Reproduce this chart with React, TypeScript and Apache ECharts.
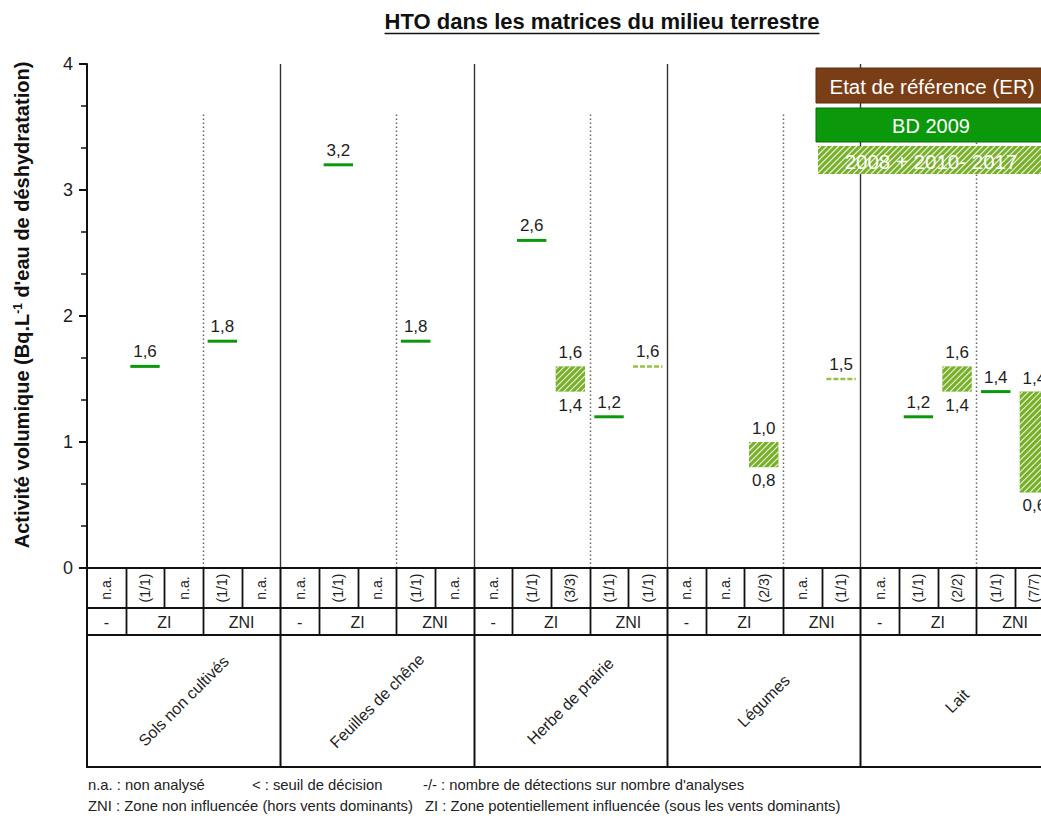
import React, { useEffect, useRef } from "react";
import * as echarts from "echarts";

const FONT = "'Liberation Sans', Arial, Helvetica, sans-serif";

// ---- texts ----
const chartTitle = "HTO dans les matrices du milieu terrestre";
const groupNames = ["Sols non cultivés", "Feuilles de chêne", "Herbe de prairie", "Légumes", "Lait"];
const zoneLabels = ["-", "ZI", "ZNI"];
const zoneSpans = [1, 2, 2];
const detectionCounts = [
  ["n.a.", "(1/1)", "n.a.", "(1/1)", "n.a."],
  ["n.a.", "(1/1)", "n.a.", "(1/1)", "n.a."],
  ["n.a.", "(1/1)", "(3/3)", "(1/1)", "(1/1)"],
  ["n.a.", "n.a.", "(2/3)", "n.a.", "(1/1)"],
  ["n.a.", "(1/1)", "(2/2)", "(1/1)", "(7/7)"],
];
const legendLabels = ["Etat de référence (ER)", "BD 2009", "2008 + 2010- 2017"];
const footnoteLine1 = ["n.a. : non analysé", "< : seuil de décision", "-/- : nombre de détections sur nombre d'analyses"];
const footnoteLine2 = ["ZNI : Zone non influencée (hors vents dominants)", "ZI : Zone potentiellement influencée (sous les vents dominants)"];

// ---- values ----
// BD 2009 (single measurements) : ZI column and ZNI column
const bd2009ZI = [1.6, 3.2, 2.6, null, 1.2];
const bd2009ZNI = [1.8, 1.8, 1.2, null, 1.4];
// 2008 + 2010-2017 (min / max) : ZI column and ZNI column
const suiviZIMin = [null, null, 1.4, 0.8, 1.4];
const suiviZIMax = [null, null, 1.6, 1.0, 1.6];
const suiviZNIMin = [null, null, 1.6, 1.5, 0.6];
const suiviZNIMax = [null, null, 1.6, 1.5, 1.4];

const COLS = 5;
const COL_BD_ZI = 1;
const COL_SUIVI_ZI = 2;
const COL_BD_ZNI = 3;
const COL_SUIVI_ZNI = 4;

// layout
const W = 1041;
const H = 816;
const GRID_LEFT = 87;
const GRID_TOP = 64;
const GRID_H = 504;
const COL_PX = 38.67; // width of one table column; the figure is cropped on the right

const BROWN = "#7a3e16";
const GREEN = "#0b980b";
const HATCH_GREEN = "#78b02a";
const LIGHT_GREEN = "#93c247";
const TXT = "#1e1e1e";

const fmt = (v: number) => v.toFixed(1).replace(".", ",");

function hatchLines(x0: number, y0: number, w: number, h: number, step: number) {
  const x1 = x0 + w;
  const y1 = y0 + h;
  const out: any[] = [];
  for (let c = x0 + y0 + step / 2; c < x1 + y1; c += step) {
    const xa = Math.max(x0, c - y1);
    const xb = Math.min(x1, c - y0);
    if (xb - xa > 0.5) {
      out.push({
        type: "line",
        silent: true,
        shape: { x1: xa, y1: c - xa, x2: xb, y2: c - xb },
        style: { stroke: "rgba(255,255,255,0.85)", lineWidth: 1.1 },
      });
    }
  }
  return out;
}

function txt(text: string, x: number, y: number, size: number, opts: any = {}) {
  return {
    type: "text",
    x,
    y,
    rotation: opts.rotation || 0,
    silent: true,
    style: {
      text,
      fill: opts.color || TXT,
      fontSize: size,
      fontFamily: FONT,
      fontWeight: opts.weight || "normal",
      align: opts.align || "center",
      textAlign: opts.align || "center",
      verticalAlign: opts.va || "middle",
      textVerticalAlign: opts.va || "middle",
      rich: opts.rich,
    },
  };
}

export default function App() {
  const ref = useRef<HTMLDivElement>(null);

  useEffect(() => {
    if (!ref.current) return;
    const chart = echarts.init(ref.current, null, { renderer: "svg" });

    const bdData: number[][] = [];
    const suiviData: number[][] = [];
    groupNames.forEach((_, g) => {
      if (bd2009ZI[g] != null) bdData.push([g * COLS + COL_BD_ZI + 0.5, bd2009ZI[g] as number]);
      if (bd2009ZNI[g] != null) bdData.push([g * COLS + COL_BD_ZNI + 0.5, bd2009ZNI[g] as number]);
      if (suiviZIMin[g] != null)
        suiviData.push([g * COLS + COL_SUIVI_ZI + 0.5, suiviZIMin[g] as number, suiviZIMax[g] as number]);
      if (suiviZNIMin[g] != null)
        suiviData.push([g * COLS + COL_SUIVI_ZNI + 0.5, suiviZNIMin[g] as number, suiviZNIMax[g] as number]);
    });

    const labelStyle = (text: string, x: number, y: number, va: string) => ({
      type: "text",
      x,
      y,
      style: {
        text,
        fill: TXT,
        fontSize: 17,
        fontFamily: FONT,
        align: "center",
        textAlign: "center",
        verticalAlign: va,
        textVerticalAlign: va,
      },
    });

    const nCols = groupNames.length * COLS;
    const xMax = (W - GRID_LEFT) / COL_PX; // visible part of the 25 columns

    chart.setOption({
      animation: false,
      backgroundColor: "#ffffff",
      grid: { left: GRID_LEFT, top: GRID_TOP, right: 0, height: GRID_H, containLabel: false },
      xAxis: { type: "value", min: 0, max: xMax, show: false },
      yAxis: {
        type: "value",
        min: 0,
        max: 4,
        interval: 1,
        axisLine: { show: true, lineStyle: { color: "#111", width: 2 } },
        axisTick: { show: true, inside: false, length: 8, lineStyle: { color: "#111", width: 2 } },
        minorTick: { show: true, splitNumber: 3, length: 6, lineStyle: { color: "#111", width: 1.5 } },
        splitLine: { show: false },
        minorSplitLine: { show: false },
        axisLabel: { fontSize: 18, color: TXT, fontFamily: FONT, margin: 14 },
      },
      series: [
        {
          name: "BD 2009",
          type: "custom",
          data: bdData,
          z: 5,
          clip: false,
          renderItem: (params: any, api: any) => {
            const x = api.value(0);
            const v = api.value(1);
            const p = api.coord([x, v]);
            const hw = api.size([1, 0])[0] * 0.38;
            return {
              type: "group",
              children: [
                {
                  type: "line",
                  shape: { x1: p[0] - hw, y1: p[1], x2: p[0] + hw, y2: p[1] },
                  style: { stroke: GREEN, lineWidth: 3 },
                },
                labelStyle(fmt(v), p[0], p[1] - 6, "bottom"),
              ],
            };
          },
        },
        {
          name: "2008 + 2010- 2017",
          type: "custom",
          data: suiviData,
          z: 5,
          clip: false,
          renderItem: (params: any, api: any) => {
            const x = api.value(0);
            const lo = api.value(1);
            const hi = api.value(2);
            const pLo = api.coord([x, lo]);
            const pHi = api.coord([x, hi]);
            const hw = api.size([1, 0])[0] * 0.38;
            if (lo === hi) {
              return {
                type: "group",
                children: [
                  {
                    type: "line",
                    shape: { x1: pHi[0] - hw, y1: pHi[1], x2: pHi[0] + hw, y2: pHi[1] },
                    style: { stroke: LIGHT_GREEN, lineWidth: 2.5, lineDash: [5, 2] },
                  },
                  labelStyle(fmt(hi), pHi[0], pHi[1] - 6, "bottom"),
                ],
              };
            }
            const x0 = pHi[0] - hw;
            const y0 = pHi[1];
            const w = hw * 2;
            const h = pLo[1] - pHi[1];
            return {
              type: "group",
              children: [
                { type: "rect", shape: { x: x0, y: y0, width: w, height: h }, style: { fill: HATCH_GREEN } },
                ...hatchLines(x0, y0, w, h, 6),
                labelStyle(fmt(hi), pHi[0], y0 - 5, "bottom"),
                labelStyle(fmt(lo), pHi[0], y0 + h + 5, "top"),
              ],
            };
          },
        },
      ],
    });

    const xAt = (v: number) => chart.convertToPixel({ xAxisIndex: 0 }, v) as number;
    const yAt = (v: number) => chart.convertToPixel({ yAxisIndex: 0 }, v) as number;

    const left = xAt(0);
    const right = W + 20;
    const R0 = yAt(0);
    const R1 = R0 + 40;
    const R2 = R1 + 27;
    const R3 = R2 + 132;
    const top = yAt(4);

    const g: any[] = [];
    const line = (x1: number, y1: number, x2: number, y2: number, lw: number, color = "#111", dash?: number[]) => ({
      type: "line",
      silent: true,
      shape: { x1, y1, x2, y2 },
      style: { stroke: color, lineWidth: lw, lineDash: dash },
    });

    // dotted ZI / ZNI separators
    groupNames.forEach((_, gi) => {
      const x = Math.round(xAt(gi * COLS + 3)) + 0.5;
      g.push(line(x, yAt(3.6), x, R0, 1.5, "#666", [1.5, 2.5]));
    });
    // solid group separators
    for (let gi = 1; gi <= groupNames.length; gi++) {
      const x = Math.round(xAt(gi * COLS)) + 0.5;
      g.push(line(x, top, x, R0, 1.4, "#333"));
      g.push(line(x, R0, x, R3, 2, "#111"));
    }
    // table frame
    g.push(line(left, R0, right, R0, 2));
    g.push(line(left, R1, right, R1, 2));
    g.push(line(left, R2, right, R2, 2));
    g.push(line(left, R3, right, R3, 2));
    g.push(line(left, R0, left, R3 + 1, 2));
    for (let c = 1; c < nCols; c++) {
      if (c % COLS === 0) continue;
      const x = Math.round(xAt(c)) + 0.5;
      g.push(line(x, R0, x, R1, 1.8));
    }
    // row 1 texts
    detectionCounts.forEach((row, gi) => {
      row.forEach((t, k) => {
        g.push(txt(t, xAt(gi * COLS + k + 0.5), (R0 + R1) / 2, 14, { rotation: Math.PI / 2 }));
      });
    });
    // row 2 + row 3
    groupNames.forEach((_, gi) => {
      let c = gi * COLS;
      zoneLabels.forEach((z, zi) => {
        const span = zoneSpans[zi];
        g.push(txt(z, xAt(c + span / 2), (R1 + R2) / 2 + 1, 16));
        c += span;
        if (c % COLS !== 0) {
          const x = Math.round(xAt(c)) + 0.5;
          g.push(line(x, R1, x, R2, 1.8));
        }
      });
      g.push(txt(groupNames[gi], xAt(gi * COLS + COLS / 2), (R2 + R3) / 2, 16, { rotation: Math.PI / 4 }));
    });

    // legend
    const lx = 816;
    const lw = 232;
    g.push({
      type: "group",
      children: [
        { type: "rect", shape: { x: lx, y: 68, width: lw, height: 35 }, style: { fill: BROWN, stroke: "#5a2c10", lineWidth: 1 } },
        txt(legendLabels[0], 932, 86, 20.5, { color: "#fff" }),
        { type: "rect", shape: { x: lx, y: 108, width: lw, height: 34 }, style: { fill: GREEN, stroke: "#0a6a0a", lineWidth: 1 } },
        txt(legendLabels[1], 931, 126, 20, { color: "#fff" }),
        { type: "rect", shape: { x: lx + 2, y: 146, width: lw, height: 28 }, style: { fill: HATCH_GREEN } },
        ...hatchLines(lx + 2, 146, lw, 28, 6),
        txt(legendLabels[2], 931, 161, 20.5, { color: "#fff" }),
      ],
    });

    // title
    const titleSize = 22;
    let tw = 433;
    try {
      const ctx = document.createElement("canvas").getContext("2d");
      if (ctx) {
        ctx.font = `bold ${titleSize}px ${FONT}`;
        tw = ctx.measureText(chartTitle).width;
      }
    } catch (e) {}
    g.push(txt(chartTitle, 602, 21, titleSize, { weight: "bold", color: "#111" }));
    g.push(line(602 - tw / 2, 33.5, 602 + tw / 2, 33.5, 1.6, "#111"));

    // y axis name
    g.push(
      txt("Activité volumique (Bq.L{sup|-1} d'eau de déshydratation)", 22, 305, 20, {
        rotation: Math.PI / 2,
        weight: "bold",
        color: "#111",
        rich: {
          sup: { fontSize: 12, fontWeight: "bold", fontFamily: FONT, fill: "#111", color: "#111", verticalAlign: "top", padding: [0, 0, 8, 0] },
        },
      })
    );

    // footnotes
    const fx1 = [88, 252, 423];
    footnoteLine1.forEach((t, i) => g.push(txt(t, fx1[i], 785, 14.8, { align: "left", color: "#222" })));
    const fx2 = [88, 425];
    footnoteLine2.forEach((t, i) => g.push(txt(t, fx2[i], 806, 14.8, { align: "left", color: "#222" })));

    chart.setOption({ graphic: { elements: g } });

    return () => chart.dispose();
  }, []);

  return (
    <div ref={ref} style={{ position: "absolute", left: 0, top: 0, width: W, height: H, background: "#fff" }} />
  );
}
